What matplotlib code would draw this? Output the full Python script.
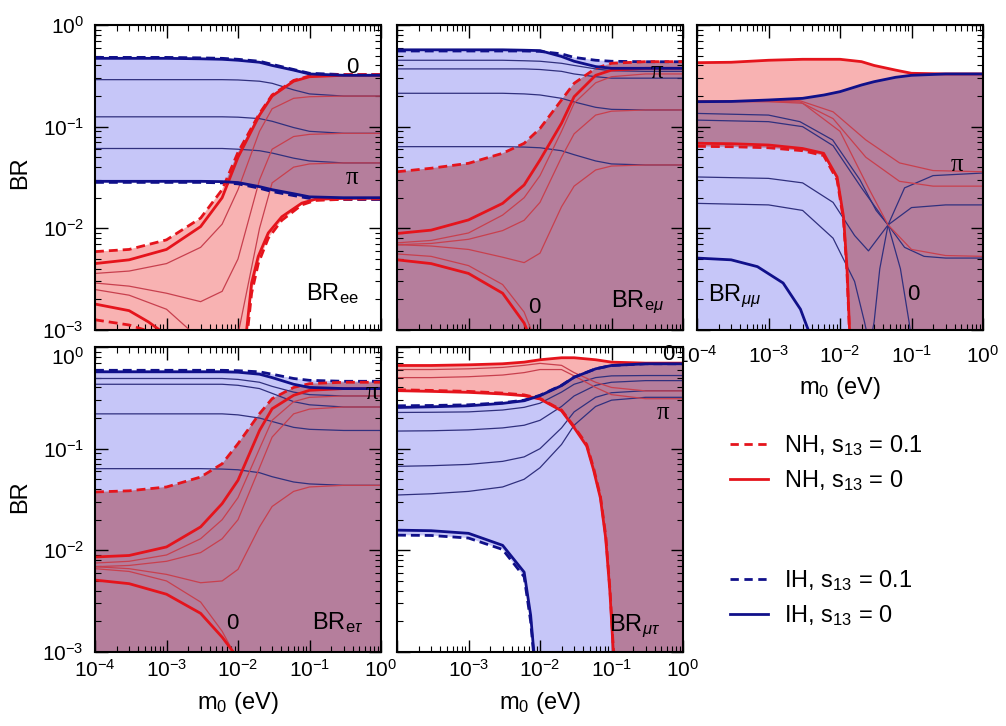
import numpy as np
import matplotlib
matplotlib.use("Agg")
import matplotlib.pyplot as plt
from matplotlib.patches import Polygon
from matplotlib.lines import Line2D

plt.rcParams['font.family'] = ['Liberation Sans', 'DejaVu Sans']
plt.rcParams['mathtext.fontset'] = 'custom'
plt.rcParams['mathtext.rm'] = 'Liberation Sans'
plt.rcParams['mathtext.it'] = 'Liberation Sans:italic'
plt.rcParams['mathtext.bf'] = 'Liberation Sans:bold'
plt.rcParams['mathtext.sf'] = 'Liberation Sans'

# ---------------- data ----------------
M0 = [1e-4, 3e-4, 1e-3, 3e-3, 6e-3, 1e-2, 2e-2, 3e-2, 6e-2, 1e-1, 3e-1, 1.0]
FLOOR = 5e-4   # below the plotted range

# --- BR_ee ---
ee_ih_top   = [0.47, 0.47, 0.47, 0.465, 0.46, 0.45, 0.43, 0.40, 0.36, 0.33, 0.32, 0.32]
ee_ih_top_d = [0.48, 0.48, 0.48, 0.475, 0.47, 0.46, 0.44, 0.41, 0.365, 0.335, 0.325, 0.325]
ee_ih_bot   = [0.029, 0.029, 0.029, 0.029, 0.0288, 0.0282, 0.0257, 0.024, 0.0219, 0.0204, 0.020, 0.020]
ee_ih_bot_d = [0.0283, 0.0283, 0.0283, 0.0283, 0.028, 0.0274, 0.0248, 0.023, 0.021, 0.0197, 0.0192, 0.0192]
ee_nh_top   = [0.0045, 0.0049, 0.0062, 0.0104, 0.020, 0.05, 0.13, 0.2, 0.28, 0.31, 0.32, 0.32]
ee_nh_top_d = [0.0059, 0.0062, 0.0077, 0.0126, 0.024, 0.056, 0.135, 0.205, 0.285, 0.315, 0.325, 0.325]
ee_nh_bot_x = [1e-4, 1e-2, 1.25e-2, 1.32e-2, 1.55e-2, 1.92e-2, 2.65e-2, 4.1e-2, 7.8e-2, 1.2e-1, 3e-1, 1.0]
ee_nh_bot   = [FLOOR, FLOOR, 8e-4, 1e-3, 2.9e-3, 5.3e-3, 9e-3, 1.3e-2, 1.77e-2, 1.93e-2, 1.97e-2, 1.98e-2]
ee_nh_bot_d = [FLOOR, FLOOR, 6e-4, 8e-4, 2.3e-3, 4.5e-3, 8e-3, 1.2e-2, 1.7e-2, 1.88e-2, 1.93e-2, 1.95e-2]
ee_nh0_x    = [1e-4, 3e-4, 5.6e-4, 8.5e-4, 1e-3]
ee_nh0      = [1.8e-3, 1.55e-3, 1.2e-3, 9.7e-4, 7e-4]
ee_nh0_d_x  = [1e-4, 3e-4, 5e-4, 6e-4]
ee_nh0_d    = [1.26e-3, 1.12e-3, 1.0e-3, 8e-4]
ee_ih_t1 = [0.29, 0.29, 0.29, 0.29, 0.29, 0.288, 0.28, 0.267, 0.23, 0.21, 0.2, 0.2]
ee_ih_t2 = [0.125, 0.125, 0.125, 0.125, 0.125, 0.124, 0.12, 0.113, 0.098, 0.09, 0.086, 0.086]
ee_ih_t3 = [0.061, 0.061, 0.061, 0.061, 0.061, 0.060, 0.058, 0.055, 0.049, 0.046, 0.044, 0.044]
ee_nh_t1 = [0.0036, 0.0038, 0.0045, 0.0065, 0.011, 0.024, 0.09, 0.15, 0.19, 0.197, 0.2, 0.2]
ee_nh_t2 = [0.0029, 0.0027, 0.0023, 0.0019, 0.0024, 0.005, 0.03, 0.06, 0.08, 0.084, 0.086, 0.086]
ee_nh_t3 = [0.0025, 0.0022, 0.0016, 0.0008, 0.0006, 0.0009, 0.01, 0.028, 0.04, 0.043, 0.044, 0.044]

# --- BR_emu ---
em_ih_top   = [0.57, 0.57, 0.57, 0.57, 0.565, 0.56, 0.49, 0.44, 0.39, 0.375, 0.375, 0.375]
em_ih_top_d = [0.555, 0.555, 0.555, 0.555, 0.555, 0.55, 0.52, 0.48, 0.45, 0.44, 0.435, 0.435]
em_nh_top   = [0.0089, 0.0096, 0.0121, 0.0176, 0.0267, 0.047, 0.108, 0.197, 0.32, 0.36, 0.375, 0.375]
em_nh_top_d = [0.036, 0.039, 0.0436, 0.0547, 0.0686, 0.096, 0.183, 0.267, 0.375, 0.42, 0.436, 0.436]
em_nh0_x    = [1e-4, 3e-4, 1e-3, 3e-3, 6e-3, 7e-3, 8e-3]
em_nh0      = [4.9e-3, 4.5e-3, 3.6e-3, 2.3e-3, 1.17e-3, 9e-4, 6e-4]
em_nh_t4_x  = [1e-4, 3e-4, 1e-3, 3e-3, 6e-3, 8e-3, 9e-3]
em_nh_t4    = [5.6e-3, 5.3e-3, 4.3e-3, 2.8e-3, 1.5e-3, 9e-4, 6e-4]
em_ih_t1 = [0.45, 0.45, 0.45, 0.45, 0.445, 0.44, 0.42, 0.40, 0.37, 0.355, 0.35, 0.35]
em_ih_t2 = [0.37, 0.37, 0.37, 0.37, 0.37, 0.365, 0.35, 0.33, 0.31, 0.30, 0.30, 0.30]
em_ih_t3 = [0.213, 0.213, 0.213, 0.213, 0.21, 0.205, 0.19, 0.175, 0.155, 0.148, 0.146, 0.146]
em_ih_t4 = [0.0636, 0.0636, 0.0636, 0.0636, 0.063, 0.062, 0.058, 0.053, 0.046, 0.043, 0.042, 0.042]
em_nh_t1 = [0.0072, 0.0076, 0.009, 0.0135, 0.02, 0.033, 0.09, 0.17, 0.27, 0.31, 0.33, 0.33]
em_nh_t2 = [0.0069, 0.0067, 0.0062, 0.0052, 0.0046, 0.0057, 0.0163, 0.026, 0.0375, 0.041, 0.042, 0.042]
em_nh_t3 = [0.0069, 0.0071, 0.0078, 0.0095, 0.012, 0.018, 0.05, 0.085, 0.13, 0.142, 0.146, 0.146]

# --- BR_mumu ---
mm_nh_top   = [0.426, 0.43, 0.45, 0.46, 0.46, 0.46, 0.436, 0.40, 0.36, 0.335, 0.33, 0.33]
mm_ih_top   = [0.176, 0.177, 0.183, 0.19, 0.205, 0.221, 0.257, 0.277, 0.306, 0.32, 0.33, 0.33]
mm_nh_bot_x = [1e-4, 3e-4, 1e-3, 3e-3, 5.9e-3, 9.1e-3, 1.12e-2, 1.25e-2, 1.36e-2, 1.6e-2, 1.0]
mm_nh_bot   = [0.0686, 0.068, 0.066, 0.061, 0.0547, 0.032, 0.013, 0.0042, 0.001, FLOOR, FLOOR]
mm_nh_bot_d = [0.064, 0.0635, 0.062, 0.058, 0.052, 0.030, 0.012, 0.0038, 0.0009, FLOOR, FLOOR]
mm_ih0_x    = [1e-4, 3e-4, 7e-4, 1.6e-3, 2.8e-3, 3.6e-3, 4e-3]
mm_ih0      = [5.1e-3, 4.9e-3, 4.2e-3, 2.9e-3, 1.6e-3, 1e-3, 6e-4]
mm_ih_a_x = [1e-4, 1e-3, 2.75e-3, 7.9e-3, 1.9e-2, 3.2e-2, 4.7e-2, 7e-2, 9.3e-2, 1.1e-1]
mm_ih_a   = [0.135, 0.13, 0.112, 0.074, 0.030, 0.015, 0.0108, 0.004, 0.00117, FLOOR]
mm_ih_b_x = [1e-4, 1e-3, 3e-3, 8e-3, 2e-2, 4.7e-2, 8e-2, 1.5e-1, 3e-1, 1.0]
mm_ih_b   = [0.116, 0.112, 0.1, 0.065, 0.025, 0.0108, 0.0065, 0.0053, 0.0051, 0.0051]
mm_ih_c_x = [1e-4, 1e-3, 3e-3, 8e-3, 1.6e-2, 2.5e-2, 4.7e-2, 1e-1, 3e-1, 1.0]
mm_ih_c   = [0.032, 0.031, 0.028, 0.018, 0.0085, 0.006, 0.0108, 0.016, 0.017, 0.017]
mm_ih_d_x = [1e-4, 1e-3, 3e-3, 8e-3, 1.6e-2, 2.2e-2, 2.6e-2, 3e-2, 3.6e-2, 4.7e-2, 8e-2, 2e-1, 1.0]
mm_ih_d   = [0.0176, 0.017, 0.015, 0.008, 0.003, 0.0012, 0.0007, 0.0012, 0.004, 0.0108, 0.025, 0.033, 0.035]
mm_nh_r_x  = [1e-4, 1e-3, 2.75e-3, 8e-3, 2.3e-2, 6.8e-2, 2e-1, 1.0]
mm_nh_r1   = [0.18, 0.18, 0.18, 0.14, 0.074, 0.044, 0.037, 0.036]
mm_nh_r2   = [0.177, 0.177, 0.175, 0.12, 0.05, 0.029, 0.026, 0.026]
mm_nh_r3_x = [1e-4, 1e-3, 3e-3, 1e-2, 2.5e-2, 4.7e-2, 1e-1, 3e-1, 1.0]
mm_nh_r3   = [0.176, 0.176, 0.17, 0.09, 0.025, 0.0108, 0.0062, 0.0054, 0.0053]

# --- BR_etau ---
et_ih_top   = [0.57, 0.57, 0.57, 0.57, 0.57, 0.565, 0.54, 0.5, 0.43, 0.40, 0.39, 0.39]
et_ih_top_d = [0.59, 0.59, 0.59, 0.59, 0.59, 0.585, 0.57, 0.54, 0.49, 0.47, 0.46, 0.46]
et_nh_top   = [0.0086, 0.0089, 0.0108, 0.017, 0.0288, 0.0489, 0.151, 0.247, 0.335, 0.375, 0.39, 0.39]
et_nh_top_d = [0.0375, 0.0385, 0.042, 0.0526, 0.071, 0.112, 0.221, 0.31, 0.40, 0.436, 0.45, 0.45]
et_nh0_x    = [1e-4, 3e-4, 1e-3, 3e-3, 6e-3, 8.6e-3, 1e-2]
et_nh0      = [5.1e-3, 4.7e-3, 3.7e-3, 2.4e-3, 1.4e-3, 1e-3, 7e-4]
et_ih_t1 = [0.49, 0.49, 0.49, 0.49, 0.49, 0.48, 0.45, 0.41, 0.36, 0.34, 0.33, 0.33]
et_ih_t2 = [0.43, 0.43, 0.43, 0.43, 0.43, 0.42, 0.39, 0.35, 0.29, 0.27, 0.257, 0.257]
et_ih_t3 = [0.22, 0.22, 0.22, 0.22, 0.22, 0.215, 0.2, 0.185, 0.162, 0.155, 0.151, 0.151]
et_ih_t4 = [0.0636, 0.0636, 0.0636, 0.0636, 0.063, 0.062, 0.058, 0.053, 0.047, 0.045, 0.0436, 0.0436]
et_nh_t1 = [0.0075, 0.0078, 0.009, 0.013, 0.02, 0.033, 0.1, 0.19, 0.29, 0.32, 0.33, 0.33]
et_nh_t2 = [0.0069, 0.0071, 0.0078, 0.0095, 0.013, 0.02, 0.065, 0.13, 0.22, 0.245, 0.257, 0.257]
et_nh_t3 = [0.0069, 0.0066, 0.0058, 0.0048, 0.005, 0.0065, 0.017, 0.027, 0.038, 0.042, 0.0436, 0.0436]
et_nh_t4_x = [1e-4, 3e-4, 1e-3, 3e-3, 6e-3, 8e-3, 9.5e-3]
et_nh_t4   = [0.0066, 0.0062, 0.005, 0.0031, 0.0016, 1.1e-3, 7e-4]

# --- BR_mutau ---
mt_nh_top   = [0.658, 0.658, 0.668, 0.684, 0.71, 0.749, 0.784, 0.784, 0.749, 0.71, 0.694, 0.694]
mt_nh_bot_x = [1e-4, 3e-4, 1e-3, 3e-3, 6e-3, 1e-2, 2e-2, 3e-2, 4.5e-2, 5.6e-2, 7e-2, 8.3e-2, 9.5e-2, 1.06e-1, 1.2e-1, 1.0]
mt_nh_bot   = [0.372, 0.366, 0.358, 0.345, 0.332, 0.308, 0.236, 0.161, 0.106, 0.0622, 0.0326, 0.0131, 0.0039, 0.001, FLOOR, FLOOR]
mt_nh_bot_d = [0.38, 0.374, 0.366, 0.352, 0.338, 0.312, 0.24, 0.165, 0.11, 0.065, 0.034, 0.014, 0.0042, 0.0011, FLOOR, FLOOR]
mt_ih_top   = [0.254, 0.258, 0.264, 0.279, 0.296, 0.332, 0.417, 0.504, 0.61, 0.658, 0.684, 0.684]
mt_ih_top_d = [0.264, 0.266, 0.27, 0.283, 0.3, 0.335, 0.42, 0.505, 0.61, 0.658, 0.684, 0.684]
mt_ih_bot_x = [1e-4, 3e-4, 1e-3, 3e-3, 6e-3, 7.4e-3, 8.2e-3, 9e-3, 1.0]
mt_ih_bot   = [0.0158, 0.0156, 0.0147, 0.0112, 0.0061, 0.0023, 0.001, FLOOR, FLOOR]
mt_ih_bot_d = [0.0141, 0.014, 0.0132, 0.0102, 0.0055, 0.002, 0.0009, FLOOR, FLOOR]
mt_ih_t1 = [0.227, 0.228, 0.23, 0.24, 0.255, 0.28, 0.36, 0.43, 0.5, 0.52, 0.524, 0.524]
mt_ih_t2 = [0.149, 0.15, 0.153, 0.16, 0.17, 0.19, 0.26, 0.33, 0.42, 0.45, 0.467, 0.467]
mt_ih_t3 = [0.067, 0.068, 0.07, 0.075, 0.083, 0.1, 0.16, 0.23, 0.32, 0.355, 0.372, 0.372]
mt_ih_t4 = [0.035, 0.036, 0.038, 0.042, 0.05, 0.065, 0.11, 0.17, 0.26, 0.3, 0.32, 0.32]
mt_nh_t1 = [0.6, 0.6, 0.61, 0.63, 0.66, 0.69, 0.66, 0.56, 0.45, 0.40, 0.37, 0.37]
mt_nh_t2 = [0.5, 0.5, 0.51, 0.53, 0.56, 0.6, 0.6, 0.52, 0.4, 0.34, 0.31, 0.31]

XTICKS = [1e-4, 1e-3, 1e-2, 1e-1, 1.0]
XTICK_LABELS = [r'$\mathdefault{10^{-4}}$', r'$\mathdefault{10^{-3}}$', r'$\mathdefault{10^{-2}}$',
                r'$\mathdefault{10^{-1}}$', r'$\mathdefault{10^{0}}$']
YTICKS = [1e-3, 1e-2, 1e-1, 1.0]
YTICK_LABELS = [r'$\mathdefault{10^{-3}}$', r'$\mathdefault{10^{-2}}$',
                r'$\mathdefault{10^{-1}}$', r'$\mathdefault{10^{0}}$']
LEGEND_NH = [r'NH, s$_{13}$ = 0.1', r'NH, s$_{13}$ = 0']
LEGEND_IH = [r'IH, s$_{13}$ = 0.1', r'IH, s$_{13}$ = 0']

# ---------------- style ----------------
RED = '#e5141c'
NAVY = '#10108a'
RED_T = '#c8404e'
NAVY_T = '#30307e'
PINK = '#f8b2b2'
LBLUE = '#c6c6f8'
PURPLE = '#b57e9c'
DASH = (0, (3.2, 1.8))

STY = {
    'nh':      dict(color=RED, lw=2.0, zorder=5, solid_capstyle='butt'),
    'nh_d':    dict(color=RED, lw=2.0, ls=DASH, zorder=4),
    'ih':      dict(color=NAVY, lw=2.0, zorder=5, solid_capstyle='butt'),
    'ih_d':    dict(color=NAVY, lw=2.0, ls=DASH, zorder=4),
    'nh_thin': dict(color=RED_T, lw=0.9, zorder=3),
    'ih_thin': dict(color=NAVY_T, lw=0.9, zorder=3),
}


def poly_xy(xu, yu, xl, yl):
    xs = np.r_[np.asarray(xu, float), np.asarray(xl, float)[::-1]]
    ys = np.r_[np.asarray(yu, float), np.asarray(yl, float)[::-1]]
    return np.column_stack([xs, ys])


def draw_panel(ax, nh, ih, curves, texts, xlabels=False, ylabels=False, hide_first_x=False,
               xpad=5, top_label_down=False):
    ax.set_xscale('log')
    ax.set_yscale('log')
    nh_poly = Polygon(poly_xy(*nh), closed=True, fc=PINK, ec='none', zorder=1)
    ih_poly = Polygon(poly_xy(*ih), closed=True, fc=LBLUE, ec='none', zorder=1.1)
    ax.add_patch(nh_poly)
    ax.add_patch(ih_poly)
    ov = Polygon(poly_xy(*nh), closed=True, fc=PURPLE, ec='none', zorder=1.2)
    ax.add_patch(ov)
    ov.set_clip_path(ih_poly)
    for x, y, kind in curves:
        ax.plot(x, y, **STY[kind])
    ax.set_xlim(1e-4, 1)
    ax.set_ylim(1e-3, 1)
    for (tx, ty, s, kw) in texts:
        ax.text(tx, ty, s, transform=ax.transAxes, zorder=8, **kw)
    ax.tick_params(which='both', direction='in', top=True, right=True)
    ax.tick_params(which='major', length=9, width=1.0)
    ax.tick_params(which='minor', length=4.5, width=0.8)
    ax.tick_params(axis='both', labelsize=15)
    ax.tick_params(axis='y', pad=8)
    ax.tick_params(axis='x', pad=xpad)
    if xlabels:
        labs = list(XTICK_LABELS)
        if hide_first_x:
            labs[0] = ''
        ax.set_xticks(XTICKS, labels=labs)
    else:
        ax.tick_params(axis='x', labelbottom=False)
    if ylabels:
        ax.set_yticks(YTICKS, labels=YTICK_LABELS)
        if top_label_down:
            ax.get_yticklabels()[-1].set_va('top')
    else:
        ax.tick_params(axis='y', labelleft=False)
    for sp in ax.spines.values():
        sp.set_linewidth(1.5)
        sp.set_zorder(10)


fig = plt.figure(figsize=(10.06, 7.26), dpi=100)
W, H = 1006.0, 726.0
col_left = [95 / W, 397 / W, 697 / W]
aw = 286 / W
ah = 305 / H
top_b = 1 - 330 / H
bot_b = 1 - 652 / H

ax1 = fig.add_axes([col_left[0], top_b, aw, ah])
ax2 = fig.add_axes([col_left[1], top_b, aw, ah])
ax3 = fig.add_axes([col_left[2], top_b, aw, ah])
ax4 = fig.add_axes([col_left[0], bot_b, aw, ah])
ax5 = fig.add_axes([col_left[1], bot_b, aw, ah])

LBL = dict(fontsize=17, ha='center', va='center')
PHASE = dict(fontsize=16, ha='center', va='center')
PI = dict(fontsize=18, ha='center', va='center', family='Liberation Serif')

# --- panel BR_ee ---
draw_panel(
    ax1,
    nh=(M0, np.maximum(ee_nh_top, ee_nh_top_d), ee_nh_bot_x, np.minimum(ee_nh_bot, ee_nh_bot_d)),
    ih=(M0, np.maximum(ee_ih_top, ee_ih_top_d), M0, np.minimum(ee_ih_bot, ee_ih_bot_d)),
    curves=[(M0, ee_ih_t1, 'ih_thin'), (M0, ee_ih_t2, 'ih_thin'), (M0, ee_ih_t3, 'ih_thin'),
            (M0, ee_nh_t1, 'nh_thin'), (M0, ee_nh_t2, 'nh_thin'), (M0, ee_nh_t3, 'nh_thin'),
            (M0, ee_ih_top_d, 'ih_d'), (M0, ee_ih_bot_d, 'ih_d'),
            (M0, ee_nh_top_d, 'nh_d'), (ee_nh_bot_x, ee_nh_bot_d, 'nh_d'), (ee_nh0_d_x, ee_nh0_d, 'nh_d'),
            (M0, ee_nh_top, 'nh'), (ee_nh_bot_x, ee_nh_bot, 'nh'), (ee_nh0_x, ee_nh0, 'nh'),
            (M0, ee_ih_top, 'ih'), (M0, ee_ih_bot, 'ih')],
    texts=[(0.90, 0.862, '0', PHASE), (0.90, 0.50, 'π', PI),
           (0.83, 0.12, r'BR$_{\mathrm{ee}}$', LBL)],
    ylabels=True)

# --- panel BR_emu ---
em_floor = [FLOOR] * len(M0)
draw_panel(
    ax2,
    nh=(M0, np.maximum(em_nh_top, em_nh_top_d), M0, em_floor),
    ih=(M0, np.maximum(em_ih_top, em_ih_top_d), M0, em_floor),
    curves=[(M0, em_ih_t1, 'ih_thin'), (M0, em_ih_t2, 'ih_thin'), (M0, em_ih_t3, 'ih_thin'),
            (M0, em_ih_t4, 'ih_thin'),
            (M0, em_nh_t1, 'nh_thin'), (M0, em_nh_t2, 'nh_thin'), (M0, em_nh_t3, 'nh_thin'),
            (em_nh_t4_x, em_nh_t4, 'nh_thin'),
            (M0, em_ih_top_d, 'ih_d'), (M0, em_nh_top_d, 'nh_d'),
            (M0, em_nh_top, 'nh'), (em_nh0_x, em_nh0, 'nh'), (M0, em_ih_top, 'ih')],
    texts=[(0.91, 0.846, 'π', PI), (0.48, 0.075, '0', PHASE),
           (0.84, 0.09, r'BR$_{\mathrm{e}\mu}$', LBL)])

# --- panel BR_mumu ---
draw_panel(
    ax3,
    nh=(M0, mm_nh_top, mm_nh_bot_x, np.minimum(mm_nh_bot, mm_nh_bot_d)),
    ih=(M0, mm_ih_top, M0, em_floor),
    curves=[(mm_ih_a_x, mm_ih_a, 'ih_thin'), (mm_ih_b_x, mm_ih_b, 'ih_thin'),
            (mm_ih_c_x, mm_ih_c, 'ih_thin'), (mm_ih_d_x, mm_ih_d, 'ih_thin'),
            (mm_nh_r_x, mm_nh_r1, 'nh_thin'), (mm_nh_r_x, mm_nh_r2, 'nh_thin'),
            (mm_nh_r3_x, mm_nh_r3, 'nh_thin'),
            (mm_nh_bot_x, mm_nh_bot_d, 'nh_d'),
            (M0, mm_nh_top, 'nh'), (mm_nh_bot_x, mm_nh_bot, 'nh'),
            (M0, mm_ih_top, 'ih'), (mm_ih0_x, mm_ih0, 'ih')],
    texts=[(0.91, 0.54, 'π', PI), (0.755, 0.115, '0', PHASE),
           (0.13, 0.11, r'BR$_{\mu\mu}$', LBL)],
    xlabels=True, xpad=11)

# --- panel BR_etau ---
draw_panel(
    ax4,
    nh=(M0, np.maximum(et_nh_top, et_nh_top_d), M0, em_floor),
    ih=(M0, np.maximum(et_ih_top, et_ih_top_d), M0, em_floor),
    curves=[(M0, et_ih_t1, 'ih_thin'), (M0, et_ih_t2, 'ih_thin'), (M0, et_ih_t3, 'ih_thin'),
            (M0, et_ih_t4, 'ih_thin'),
            (M0, et_nh_t1, 'nh_thin'), (M0, et_nh_t2, 'nh_thin'), (M0, et_nh_t3, 'nh_thin'),
            (et_nh_t4_x, et_nh_t4, 'nh_thin'),
            (M0, et_ih_top_d, 'ih_d'), (M0, et_nh_top_d, 'nh_d'),
            (M0, et_nh_top, 'nh'), (et_nh0_x, et_nh0, 'nh'), (M0, et_ih_top, 'ih')],
    texts=[(0.97, 0.85, 'π', PI), (0.48, 0.095, '0', PHASE),
           (0.85, 0.095, r'BR$_{\mathrm{e}\tau}$', LBL)],
    xlabels=True, ylabels=True, xpad=5, top_label_down=True)

# --- panel BR_mutau ---
draw_panel(
    ax5,
    nh=(M0, mt_nh_top, mt_nh_bot_x, np.minimum(mt_nh_bot, mt_nh_bot_d)),
    ih=(M0, np.maximum(mt_ih_top, mt_ih_top_d), mt_ih_bot_x, np.minimum(mt_ih_bot, mt_ih_bot_d)),
    curves=[(M0, mt_ih_t1, 'ih_thin'), (M0, mt_ih_t2, 'ih_thin'), (M0, mt_ih_t3, 'ih_thin'),
            (M0, mt_ih_t4, 'ih_thin'),
            (M0, mt_nh_t1, 'nh_thin'), (M0, mt_nh_t2, 'nh_thin'),
            (M0, mt_ih_top_d, 'ih_d'), (mt_ih_bot_x, mt_ih_bot_d, 'ih_d'),
            (mt_nh_bot_x, mt_nh_bot_d, 'nh_d'),
            (M0, mt_nh_top, 'nh'), (mt_nh_bot_x, mt_nh_bot, 'nh'),
            (M0, mt_ih_top, 'ih'), (mt_ih_bot_x, mt_ih_bot, 'ih')],
    texts=[(0.95, 0.975, '0', PHASE), (0.93, 0.785, 'π', PI),
           (0.83, 0.085, r'BR$_{\mu\tau}$', LBL)],
    xlabels=True, hide_first_x=True, xpad=5)

# axis titles
fig.text(20 / W, 1 - 173 / H, 'BR', rotation=90, ha='center', va='center', fontsize=17)
fig.text(20 / W, 1 - 497 / H, 'BR', rotation=90, ha='center', va='center', fontsize=17)
fig.text(238 / W, 1 - 703 / H, r'm$_0$ (eV)', ha='center', va='center', fontsize=17)
fig.text(540 / W, 1 - 703 / H, r'm$_0$ (eV)', ha='center', va='center', fontsize=17)
fig.text(840 / W, 1 - 388 / H, r'm$_0$ (eV)', ha='center', va='center', fontsize=17)

# legends
h_nh = [Line2D([], [], color=RED, lw=2.0, ls=(0, (3, 2))), Line2D([], [], color=RED, lw=2.0)]
h_ih = [Line2D([], [], color=NAVY, lw=2.0, ls=(0, (3, 2))), Line2D([], [], color=NAVY, lw=2.0)]
leg_kw = dict(loc='upper left', frameon=False, fontsize=17, handlelength=1.6, handletextpad=0.7,
              labelspacing=0.45, borderpad=0, borderaxespad=0)
fig.legend(h_nh, LEGEND_NH, bbox_to_anchor=(730 / W, 1 - 433 / H), **leg_kw)
fig.legend(h_ih, LEGEND_IH, bbox_to_anchor=(730 / W, 1 - 568 / H), **leg_kw)

fig.savefig('out.png', dpi=100)
